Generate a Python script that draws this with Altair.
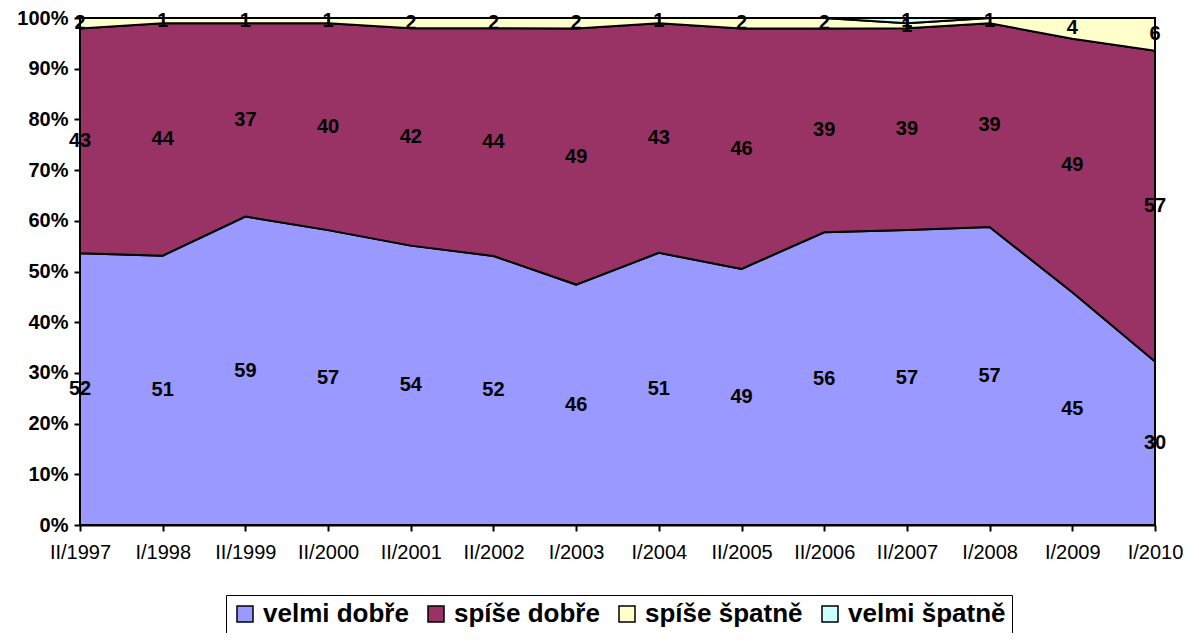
import altair as alt
import pandas as pd

categories = ["II/1997", "I/1998", "II/1999", "II/2000", "II/2001", "II/2002", "I/2003",
              "I/2004", "II/2005", "II/2006", "II/2007", "I/2008", "I/2009", "I/2010"]
series = ["velmi dobře", "spíše dobře", "spíše špatně", "velmi špatně"]
velmi_dobre = [52, 51, 59, 57, 54, 52, 46, 51, 49, 56, 57, 57, 45, 30]
spise_dobre = [43, 44, 37, 40, 42, 44, 49, 43, 46, 39, 39, 39, 49, 57]
spise_spatne = [2, 1, 1, 1, 2, 2, 2, 1, 2, 2, 1, 1, 4, 6]
velmi_spatne = [0, 0, 0, 0, 0, 0, 0, 0, 0, 0, 1, 0, 0, 0]
colors = ["#9999FF", "#993366", "#FFFFCC", "#CCFFFF"]

rows = []
for s_i, (name, vals) in enumerate(zip(series, [velmi_dobre, spise_dobre, spise_spatne, velmi_spatne])):
    for c_i, (cat, v) in enumerate(zip(categories, vals)):
        rows.append({"kat": cat, "ci": c_i, "serie": name, "ord": s_i, "hodnota": v})
df = pd.DataFrame(rows)

base = alt.Chart(df).transform_stack(
    stack="hodnota", groupby=["kat"], as_=["y0", "y1"],
    offset="normalize", sort=[alt.SortField("ord", order="ascending")]
).transform_calculate(mid="(datum.y0 + datum.y1) / 2")

xenc = alt.X("kat:N", sort=categories, scale=alt.Scale(type="point", padding=0),
             axis=alt.Axis(title=None, labelAngle=0, labelFont="Liberation Sans",
                           labelFontSize=20, labelColor="black", labelPadding=11,
                           tickSize=6, tickColor="black", domainColor="black",
                           domainWidth=2, tickWidth=2, grid=False))

area = base.mark_area(stroke="black", strokeWidth=2, interpolate="linear").encode(
    x=xenc,
    y=alt.Y("y0:Q", scale=alt.Scale(domain=[0, 1], nice=False),
            axis=alt.Axis(title=None, format=".0%", values=[i / 10 for i in range(11)],
                          labelFont="Liberation Sans", labelFontWeight="bold",
                          labelFontSize=20, labelColor="black", labelPadding=6,
                          tickSize=6, tickColor="black", domainColor="black",
                          domainWidth=2, tickWidth=2, grid=False)),
    y2="y1:Q",
    color=alt.Color("serie:N", sort=series,
                    scale=alt.Scale(domain=series, range=colors),
                    legend=alt.Legend(title=None, orient="none", direction="horizontal",
                                      legendX=146, legendY=577,
                                      labelFont="Liberation Sans", labelFontWeight="bold",
                                      labelFontSize=26, labelColor="black",
                                      symbolType="square", symbolSize=256,
                                      symbolStrokeColor="black", symbolStrokeWidth=1.5,
                                      strokeColor="black", padding=6,
                                      columnPadding=14, labelOffset=5)),
    order=alt.Order("ord:Q"),
)

labels = base.transform_filter("datum.hodnota > 0").mark_text(
    font="Liberation Sans", fontWeight="bold", fontSize=20, color="black",
    baseline="middle", align="center"
).encode(
    x=alt.X("kat:N", sort=categories, scale=alt.Scale(type="point", padding=0)),
    y=alt.Y("mid:Q", scale=alt.Scale(domain=[0, 1], nice=False)),
    text="hodnota:Q",
)

chart = alt.layer(area, labels).properties(
    width=1075, height=507,
    autosize=alt.AutoSizeParams(type="none"),
    padding={"left": 72, "top": 10, "right": 36, "bottom": 108},
).configure_view(stroke=None).configure(background="white")

chart.save("out.html", embed_options={"renderer": "svg", "actions": False})
